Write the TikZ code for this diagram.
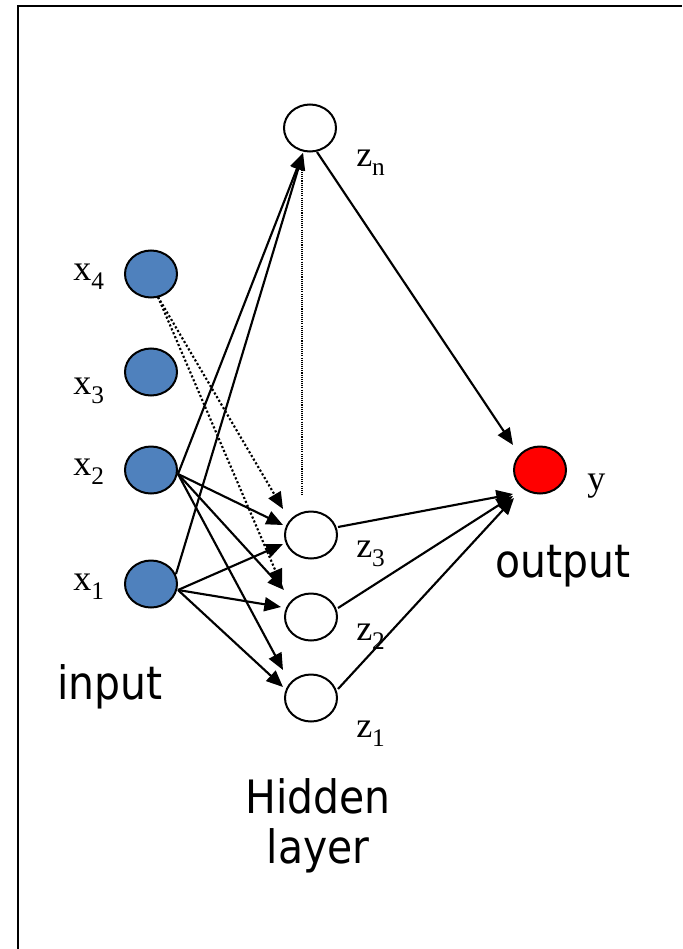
\documentclass[tikz,border=0pt]{standalone}
\usepackage{fontspec}
\setmainfont{Liberation Serif}
\newfontfamily\tahfont[FakeStretch=0.89]{DejaVu Sans}
\usetikzlibrary{arrows.meta,calc,shapes.geometric}
\definecolor{inblue}{RGB}{79,129,189}
\newcommand\sbs[1]{\raisebox{-6.75pt}{\fontsize{19}{19}\selectfont #1}}
\begin{document}
\begin{tikzpicture}[x=0.75pt,y=-0.75pt,
  neuron/.style={ellipse,draw,line width=1.5pt,minimum width=39pt,minimum height=35.25pt,inner sep=0pt},
  conn/.style={line width=1.6pt,-{Triangle[length=12.5pt,width=10.5pt]}},
  dotconn/.style={line width=1.6pt,dash pattern=on 1.6pt off 1.6pt,-{Triangle[length=12.5pt,width=10.5pt]}},
  thindot/.style={line width=0.8pt,dash pattern=on 0.8pt off 0.8pt},
  lab/.style={anchor=base west,inner sep=0pt,font=\fontsize{27}{29}\selectfont},
  big/.style={anchor=base,inner sep=0pt,font=\tahfont\fontsize{34.5}{37.5}\selectfont},
  frame/.style={line width=1.5pt}]
\useasboundingbox (0,0) rectangle (682,949);
\fill[white] (0,0) rectangle (682,949);
\draw[frame] (18.3,949) -- (18.3,5.7) -- (682,5.7);

% neurons
\node[neuron,fill=inblue] (x4) at (151,274) {};
\node[neuron,fill=inblue] (x3) at (151,372) {};
\node[neuron,fill=inblue] (x2) at (151,470) {};
\node[neuron,fill=inblue] (x1) at (151,584) {};
\node[neuron,fill=white] (zn) at (310,128) {};
\node[neuron,fill=white] (z3) at (311,535) {};
\node[neuron,fill=white] (z2) at (311,617) {};
\node[neuron,fill=white] (z1) at (311,698) {};
\node[neuron,fill=red] (y) at (540,470) {};

% labels
\node[lab] (lx4) at (73,280) {x\sbs{4}};
\node[lab] (lx3) at (73,394) {x\sbs{3}};
\node[lab] (lx2) at (73,475) {x\sbs{2}};
\node[lab] (lx1) at (73,590) {x\sbs{1}};
\node[lab] (lzn) at (356,166) {z\sbs{n}};
\node[lab] (lz3) at (356,557) {z\sbs{3}};
\node[lab] (lz2) at (356,640) {z\sbs{2}};
\node[lab] (lz1) at (356,737) {z\sbs{1}};
\node[lab] (ly) at (587,490) {y};

\node[big] (tin) at (110,699) {input};
\node[big] (tout) at (563,577) {output};
\node[big] (thid) at (318,813) {Hidden};
\node[big] (tlay) at (318,863) {layer};

% input to zn
\draw[conn] ($(x2)+(27,4)$) -- ($(zn)+(-7,25)$);
\draw[conn] ($(x1)+(25,-10)$) -- ($(zn)+(-7,25)$);
% dotted vertical
\draw[thindot] ($(zn)+(-8,29)$) -- ($(z3)+(-9,-40)$);
% x4 dotted
\draw[dotconn] ($(x4)+(7,23)$) -- ($(z3)+(-28,-26)$);
\draw[dotconn] ($(x4)+(7,23)$) -- ($(z2)+(-29,-31)$);
% x2 to hidden
\draw[conn] ($(x2)+(27,4)$) -- ($(z3)+(-28,-10)$);
\draw[conn] ($(x2)+(27,4)$) -- ($(z2)+(-27,-27)$);
\draw[conn] ($(x2)+(27,4)$) -- ($(z1)+(-28,-28)$);
% x1 to hidden
\draw[conn] ($(x1)+(27,6)$) -- ($(z3)+(-28,9)$);
\draw[conn] ($(x1)+(27,6)$) -- ($(z2)+(-30,-10)$);
\draw[conn] ($(x1)+(27,6)$) -- ($(z1)+(-28,-11)$);
% hidden to output
\draw[conn] ($(zn)+(7,24)$) -- ($(y)+(-27,-25)$);
\draw[conn] ($(z3)+(27,-8)$) -- ($(y)+(-27,24)$);
\draw[conn] ($(z2)+(27,-9)$) -- ($(y)+(-27,26)$);
\draw[conn] ($(z1)+(27,-9)$) -- ($(y)+(-26,28)$);
\end{tikzpicture}
\end{document}
